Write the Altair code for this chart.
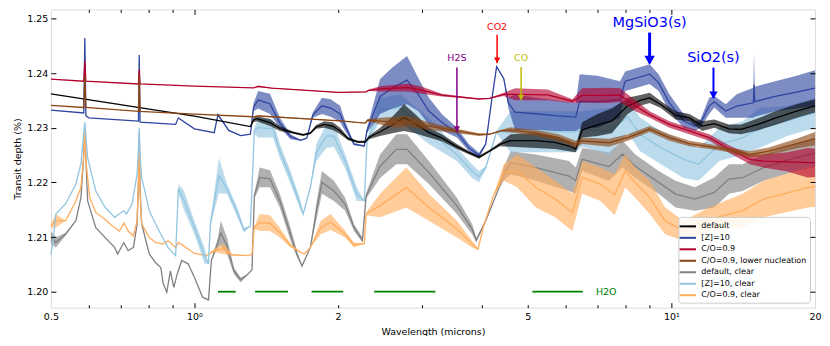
import altair as alt
import pandas as pd

# ---------------- data ----------------
SERIES = ["default", "[Z]=10", "C/O=0.9", "C/O=0.9, lower nucleation",
          "default, clear", "[Z]=10, clear", "C/O=0.9, clear"]
COLORS = ["#000000", "#2f45a0", "#b3002d", "#8b4513", "#808080", "#92c5e0", "#ffad5c"]

# (wavelength [micron], lower envelope, upper envelope) of transit depth [%]
default_pts = [
    (0.50, 1.2362, 1.2362), (1.00, 1.2321, 1.2321), (1.31, 1.2302, 1.2302),
    (1.33, 1.2310, 1.2318), (1.35, 1.2312, 1.2321), (1.44, 1.2303, 1.2316),
    (1.51, 1.2294, 1.2303), (1.61, 1.2289, 1.2293), (1.69, 1.2285, 1.2289),
    (1.75, 1.2288, 1.2292), (1.80, 1.2298, 1.2305), (1.87, 1.2300, 1.2312),
    (1.95, 1.2296, 1.2310), (2.02, 1.2288, 1.2300), (2.10, 1.2277, 1.2283),
    (2.20, 1.2272, 1.2276), (2.28, 1.2272, 1.2276), (2.32, 1.2279, 1.2285),
    (2.45, 1.2285, 1.2300), (2.60, 1.2290, 1.2320), (2.75, 1.2294, 1.2343),
    (2.90, 1.2290, 1.2325), (3.10, 1.2282, 1.2300), (3.30, 1.2275, 1.2288),
    (3.55, 1.2261, 1.2270), (3.75, 1.2252, 1.2258), (3.95, 1.2243, 1.2249),
    (4.15, 1.2255, 1.2259), (4.37, 1.2266, 1.2273), (4.60, 1.2265, 1.2288),
    (5.20, 1.2263, 1.2290), (5.70, 1.2261, 1.2285), (6.10, 1.2257, 1.2276),
    (6.30, 1.2255, 1.2267), (6.50, 1.2282, 1.2310), (7.00, 1.2285, 1.2325),
    (7.50, 1.2290, 1.2335), (8.10, 1.2325, 1.2355), (8.60, 1.2340, 1.2360),
    (9.00, 1.2345, 1.2364), (9.50, 1.2336, 1.2349), (10.2, 1.2315, 1.2330),
    (10.9, 1.2312, 1.2325), (11.6, 1.2294, 1.2312), (12.3, 1.2300, 1.2315),
    (13.2, 1.2290, 1.2306), (14.0, 1.2288, 1.2306), (15.3, 1.2296, 1.2318),
    (16.5, 1.2305, 1.2330), (18.3, 1.2318, 1.2343), (20.0, 1.2328, 1.2352),
]

z10_pts = [
    (0.500, 1.2332, 1.2332), (0.586, 1.2327, 1.2327), (0.589, 1.2464, 1.2464),
    (0.592, 1.2322, 1.2322), (0.600, 1.2318, 1.2318), (0.763, 1.2312, 1.2312),
    (0.766, 1.2433, 1.2433), (0.769, 1.2310, 1.2310), (0.913, 1.2306, 1.2306),
    (0.925, 1.2318, 1.2318), (1.00, 1.2298, 1.2298), (1.10, 1.2291, 1.2291),
    (1.12, 1.2322, 1.2326), (1.18, 1.2294, 1.2296), (1.25, 1.2285, 1.2286),
    (1.31, 1.2288, 1.2288), (1.33, 1.2330, 1.2345), (1.36, 1.2335, 1.2367),
    (1.44, 1.2325, 1.2362), (1.51, 1.2300, 1.2318), (1.59, 1.2279, 1.2288),
    (1.67, 1.2276, 1.2278), (1.72, 1.2280, 1.2282), (1.77, 1.2318, 1.2328),
    (1.85, 1.2325, 1.2355), (1.93, 1.2320, 1.2352), (2.02, 1.2310, 1.2340),
    (2.07, 1.2294, 1.2312), (2.16, 1.2268, 1.2272), (2.27, 1.2265, 1.2268),
    (2.30, 1.2290, 1.2300), (2.45, 1.2325, 1.2389), (2.60, 1.2335, 1.2410),
    (2.79, 1.2343, 1.2431), (2.95, 1.2330, 1.2390), (3.10, 1.2306, 1.2355),
    (3.30, 1.2295, 1.2325), (3.55, 1.2282, 1.2300), (3.76, 1.2257, 1.2270),
    (3.95, 1.2245, 1.2254), (4.08, 1.2268, 1.2272), (4.20, 1.2350, 1.2352),
    (4.30, 1.2410, 1.2413), (4.45, 1.2389, 1.2391), (4.55, 1.2336, 1.2355),
    (4.70, 1.2296, 1.2361), (5.20, 1.2296, 1.2355), (5.70, 1.2294, 1.2350),
    (6.30, 1.2294, 1.2345), (6.42, 1.2298, 1.2398), (7.00, 1.2300, 1.2395),
    (7.80, 1.2318, 1.2385), (8.00, 1.2367, 1.2403), (9.00, 1.2380, 1.2416),
    (9.40, 1.2367, 1.2398), (9.90, 1.2330, 1.2361), (10.6, 1.2300, 1.2325),
    (11.2, 1.2294, 1.2312), (11.5, 1.2300, 1.2315), (12.0, 1.2325, 1.2355),
    (12.3, 1.2337, 1.2358), (13.0, 1.2318, 1.2343), (13.7, 1.2318, 1.2361),
    (14.85, 1.2318, 1.2373), (14.9, 1.2320, 1.2437), (14.95, 1.2320, 1.2375),
    (16.5, 1.2330, 1.2385), (18.3, 1.2335, 1.2395), (20.0, 1.2340, 1.2405),
]

co_pts = [
    (0.500, 1.2389, 1.2389), (0.586, 1.2385, 1.2385), (0.589, 1.2422, 1.2422),
    (0.592, 1.2385, 1.2385), (0.763, 1.2380, 1.2380), (0.766, 1.2406, 1.2406),
    (0.769, 1.2380, 1.2380), (1.00, 1.2376, 1.2376), (1.33, 1.2373, 1.2373),
    (1.36, 1.2374, 1.2377), (1.45, 1.2372, 1.2373), (2.00, 1.2364, 1.2365),
    (2.29, 1.2365, 1.2366), (2.32, 1.2367, 1.2370), (2.45, 1.2366, 1.2376),
    (2.80, 1.2366, 1.2381), (3.00, 1.2362, 1.2375), (3.30, 1.2357, 1.2362),
    (3.95, 1.2352, 1.2353), (4.15, 1.2353, 1.2354), (4.45, 1.2358, 1.2364),
    (4.70, 1.2350, 1.2372), (5.50, 1.2350, 1.2370), (6.20, 1.2345, 1.2352),
    (6.50, 1.2346, 1.2372), (7.40, 1.2345, 1.2373), (7.80, 1.2347, 1.2372),
    (8.40, 1.2330, 1.2350), (9.00, 1.2318, 1.2330), (9.90, 1.2300, 1.2312),
    (10.9, 1.2288, 1.2300), (12.0, 1.2276, 1.2288), (13.2, 1.2254, 1.2268),
    (14.6, 1.2233, 1.2251), (15.6, 1.2227, 1.2251), (17.5, 1.2220, 1.2255),
    (19.3, 1.2209, 1.2263), (20.0, 1.2210, 1.2262),
]

lownuc_pts = [
    (0.500, 1.2341, 1.2341), (0.586, 1.2337, 1.2337), (0.589, 1.2395, 1.2395),
    (0.592, 1.2337, 1.2337), (0.763, 1.2330, 1.2330), (0.766, 1.2395, 1.2395),
    (0.769, 1.2330, 1.2330), (1.00, 1.2325, 1.2325), (1.33, 1.2320, 1.2320),
    (1.36, 1.2320, 1.2323), (2.02, 1.2312, 1.2313), (2.28, 1.2308, 1.2309),
    (2.31, 1.2312, 1.2316), (2.45, 1.2306, 1.2318), (2.65, 1.2300, 1.2320),
    (2.80, 1.2302, 1.2322), (3.10, 1.2296, 1.2310), (3.55, 1.2290, 1.2298),
    (3.95, 1.2285, 1.2290), (4.15, 1.2287, 1.2289), (4.40, 1.2293, 1.2296),
    (4.60, 1.2291, 1.2301), (5.20, 1.2285, 1.2296), (5.80, 1.2275, 1.2288),
    (6.30, 1.2264, 1.2276), (6.50, 1.2270, 1.2282), (7.40, 1.2265, 1.2280),
    (8.10, 1.2276, 1.2288), (9.00, 1.2292, 1.2303), (9.90, 1.2276, 1.2288),
    (10.9, 1.2266, 1.2276), (12.0, 1.2261, 1.2270), (13.2, 1.2255, 1.2264),
    (14.6, 1.2245, 1.2257), (16.0, 1.2250, 1.2264), (18.3, 1.2262, 1.2280),
    (20.0, 1.2268, 1.2292),
]

clear_pts = [
    (0.500, 1.2088, 1.2111), (0.512, 1.2081, 1.2099), (0.537, 1.2103, 1.2108),
    (0.564, 1.2130, 1.2130), (0.578, 1.2172, 1.2172), (0.586, 1.2250, 1.2250),
    (0.589, 1.2300, 1.2300), (0.592, 1.2245, 1.2245), (0.597, 1.2166, 1.2166),
    (0.621, 1.2117, 1.2117), (0.650, 1.2099, 1.2099), (0.680, 1.2081, 1.2081),
    (0.690, 1.2069, 1.2069), (0.711, 1.2090, 1.2090), (0.726, 1.2075, 1.2075),
    (0.745, 1.2081, 1.2081), (0.758, 1.2124, 1.2124), (0.763, 1.2200, 1.2200),
    (0.766, 1.2290, 1.2290), (0.769, 1.2190, 1.2190), (0.775, 1.2124, 1.2124),
    (0.804, 1.2069, 1.2069), (0.829, 1.2053, 1.2053), (0.850, 1.2044, 1.2044),
    (0.860, 1.2015, 1.2015), (0.875, 1.1999, 1.1999), (0.890, 1.2038, 1.2038),
    (0.905, 1.2008, 1.2008), (0.920, 1.2032, 1.2032), (0.940, 1.2057, 1.2057),
    (0.970, 1.2051, 1.2051), (1.000, 1.2026, 1.2026), (1.040, 1.1990, 1.1990),
    (1.070, 1.1985, 1.1985), (1.085, 1.2057, 1.2057), (1.120, 1.2081, 1.2099),
    (1.135, 1.2085, 1.2130), (1.170, 1.2069, 1.2099), (1.210, 1.2032, 1.2044),
    (1.250, 1.2017, 1.2026), (1.290, 1.2030, 1.2032), (1.320, 1.2040, 1.2040),
    (1.335, 1.2170, 1.2180), (1.370, 1.2191, 1.2227), (1.440, 1.2191, 1.2222),
    (1.510, 1.2154, 1.2179), (1.590, 1.2093, 1.2117), (1.640, 1.2063, 1.2075),
    (1.680, 1.2047, 1.2047), (1.750, 1.2081, 1.2081), (1.800, 1.2130, 1.2161),
    (1.850, 1.2179, 1.2221), (1.960, 1.2166, 1.2203), (2.070, 1.2148, 1.2172),
    (2.160, 1.2111, 1.2124), (2.250, 1.2090, 1.2099), (2.290, 1.2170, 1.2180),
    (2.450, 1.2208, 1.2251), (2.650, 1.2233, 1.2288), (2.790, 1.2233, 1.2288),
    (3.100, 1.2197, 1.2239), (3.550, 1.2142, 1.2172), (3.820, 1.2105, 1.2124),
    (3.900, 1.2090, 1.2099), (4.080, 1.2130, 1.2130), (4.300, 1.2179, 1.2179),
    (4.450, 1.2203, 1.2227), (4.600, 1.2215, 1.2257), (5.200, 1.2203, 1.2251),
    (6.100, 1.2184, 1.2239), (6.300, 1.2179, 1.2227), (6.500, 1.2221, 1.2263),
    (7.400, 1.2203, 1.2255), (7.900, 1.2227, 1.2276), (8.400, 1.2208, 1.2251),
    (9.400, 1.2179, 1.2221), (10.20, 1.2154, 1.2203), (11.20, 1.2148, 1.2191),
    (12.30, 1.2154, 1.2209), (13.20, 1.2179, 1.2233), (14.10, 1.2184, 1.2233),
    (15.60, 1.2203, 1.2251), (18.30, 1.2221, 1.2270), (20.00, 1.2227, 1.2280),
]

z10clear_pts = [
    (0.500, 1.2068, 1.2068), (0.505, 1.2090, 1.2090), (0.512, 1.2142, 1.2142),
    (0.537, 1.2161, 1.2161), (0.564, 1.2197, 1.2197), (0.578, 1.2234, 1.2234),
    (0.586, 1.2290, 1.2290), (0.589, 1.2310, 1.2310), (0.592, 1.2285, 1.2285),
    (0.597, 1.2245, 1.2245), (0.621, 1.2184, 1.2184), (0.650, 1.2154, 1.2154),
    (0.680, 1.2136, 1.2136), (0.711, 1.2148, 1.2148), (0.720, 1.2142, 1.2142),
    (0.740, 1.2161, 1.2161), (0.758, 1.2215, 1.2215), (0.763, 1.2260, 1.2260),
    (0.766, 1.2300, 1.2300), (0.769, 1.2250, 1.2250), (0.775, 1.2209, 1.2209),
    (0.804, 1.2148, 1.2148), (0.843, 1.2111, 1.2111), (0.880, 1.2081, 1.2081),
    (0.913, 1.2066, 1.2066), (0.925, 1.2180, 1.2197), (0.950, 1.2150, 1.2185),
    (1.000, 1.2105, 1.2129), (1.050, 1.2051, 1.2081), (1.070, 1.2051, 1.2051),
    (1.080, 1.2120, 1.2130), (1.125, 1.2180, 1.2245), (1.170, 1.2179, 1.2197),
    (1.230, 1.2136, 1.2154), (1.270, 1.2108, 1.2117), (1.310, 1.2120, 1.2120),
    (1.335, 1.2290, 1.2300), (1.360, 1.2282, 1.2318), (1.460, 1.2282, 1.2315),
    (1.510, 1.2245, 1.2270), (1.590, 1.2197, 1.2221), (1.670, 1.2148, 1.2166),
    (1.690, 1.2142, 1.2142), (1.750, 1.2191, 1.2191), (1.800, 1.2239, 1.2270),
    (1.890, 1.2263, 1.2306), (1.960, 1.2265, 1.2305), (2.070, 1.2226, 1.2251),
    (2.190, 1.2166, 1.2191), (2.270, 1.2166, 1.2166), (2.300, 1.2270, 1.2280),
    (2.450, 1.2312, 1.2355), (2.700, 1.2312, 1.2361), (3.100, 1.2270, 1.2318),
    (3.550, 1.2239, 1.2263), (3.820, 1.2208, 1.2233), (3.950, 1.2200, 1.2221),
    (4.080, 1.2224, 1.2230), (4.300, 1.2290, 1.2295), (4.600, 1.2255, 1.2330),
    (6.300, 1.2255, 1.2330), (6.500, 1.2265, 1.2330), (7.400, 1.2251, 1.2336),
    (8.100, 1.2290, 1.2349), (8.600, 1.2257, 1.2318), (9.500, 1.2233, 1.2294),
    (10.60, 1.2208, 1.2276), (11.40, 1.2203, 1.2263), (12.60, 1.2239, 1.2300),
    (14.10, 1.2251, 1.2312), (15.30, 1.2263, 1.2336), (17.50, 1.2285, 1.2340),
    (20.00, 1.2300, 1.2355),
]

coclear_pts = [
    (0.500, 1.2117, 1.2124), (0.512, 1.2117, 1.2142), (0.537, 1.2130, 1.2130),
    (0.564, 1.2166, 1.2166), (0.578, 1.2191, 1.2191), (0.586, 1.2250, 1.2250),
    (0.589, 1.2300, 1.2300), (0.592, 1.2240, 1.2240), (0.603, 1.2172, 1.2172),
    (0.621, 1.2145, 1.2145), (0.641, 1.2136, 1.2136), (0.673, 1.2120, 1.2120),
    (0.696, 1.2111, 1.2111), (0.711, 1.2126, 1.2126), (0.726, 1.2111, 1.2111),
    (0.745, 1.2102, 1.2102), (0.758, 1.2130, 1.2130), (0.763, 1.2200, 1.2200),
    (0.766, 1.2290, 1.2290), (0.769, 1.2180, 1.2180), (0.775, 1.2124, 1.2124),
    (0.804, 1.2099, 1.2099), (0.829, 1.2090, 1.2090), (0.857, 1.2087, 1.2087),
    (0.880, 1.2093, 1.2093), (0.913, 1.2081, 1.2081), (0.926, 1.2090, 1.2090),
    (0.970, 1.2078, 1.2078), (1.000, 1.2070, 1.2070), (1.060, 1.2066, 1.2066),
    (1.100, 1.2072, 1.2078), (1.150, 1.2069, 1.2088), (1.200, 1.2066, 1.2069),
    (1.300, 1.2066, 1.2066), (1.320, 1.2069, 1.2069), (1.335, 1.2115, 1.2120),
    (1.370, 1.2111, 1.2142), (1.440, 1.2111, 1.2140), (1.510, 1.2099, 1.2117),
    (1.590, 1.2081, 1.2088), (1.670, 1.2072, 1.2072), (1.700, 1.2069, 1.2069),
    (1.750, 1.2081, 1.2081), (1.840, 1.2105, 1.2130), (1.930, 1.2113, 1.2142),
    (2.070, 1.2099, 1.2111), (2.160, 1.2081, 1.2090), (2.270, 1.2088, 1.2088),
    (2.290, 1.2140, 1.2145), (2.450, 1.2136, 1.2179), (2.780, 1.2154, 1.2227),
    (3.100, 1.2130, 1.2179), (3.550, 1.2099, 1.2130), (3.820, 1.2081, 1.2093),
    (3.930, 1.2076, 1.2080), (4.030, 1.2117, 1.2117), (4.220, 1.2172, 1.2172),
    (4.450, 1.2203, 1.2233), (4.750, 1.2191, 1.2251), (5.200, 1.2154, 1.2227),
    (5.700, 1.2136, 1.2203), (6.200, 1.2111, 1.2179), (6.500, 1.2179, 1.2239),
    (7.100, 1.2166, 1.2227), (7.600, 1.2140, 1.2215), (8.000, 1.2191, 1.2251),
    (8.400, 1.2172, 1.2227), (9.000, 1.2142, 1.2203), (9.700, 1.2105, 1.2154),
    (10.60, 1.2093, 1.2130), (12.00, 1.2111, 1.2154), (14.10, 1.2118, 1.2179),
    (15.60, 1.2136, 1.2203), (19.30, 1.2154, 1.2227), (20.00, 1.2155, 1.2230),
]

# H2O bands
h2o_start = [1.12, 1.34, 1.76, 2.38, 5.11]
h2o_end = [1.22, 1.57, 2.05, 3.20, 6.52]
h2o_level = 1.2000
h2o_label_x = 7.3

# annotations
ann_label = ["H2S", "CO2", "CO", "MgSiO3(s)", "SiO2(s)"]
ann_x = [3.55, 4.31, 4.84, 9.0, 12.25]
ann_text_y = [1.2427, 1.2484, 1.2427, 1.2491, 1.2427]
ann_from = [1.2410, 1.2470, 1.2411, 1.2474, 1.2410]
ann_to = [1.2292, 1.2418, 1.2350, 1.2418, 1.2354]
ann_color = ["#800080", "#ff0000", "#bfbf00", "#0000ff", "#0000ff"]
ann_font = [9.5, 9.5, 9.5, 14.5, 14.5]
ann_width = [1.5, 1.5, 1.5, 3.0, 2.0]
ann_head = [40, 40, 40, 110, 70]

# axes
x_label_vals = [0.5, 1, 2, 5, 10, 20]
x_major = [1, 10]
x_minor = [0.6, 0.7, 0.8, 0.9, 2, 3, 4, 5, 6, 7, 8, 9]
y_ticks = [1.20, 1.21, 1.22, 1.23, 1.24, 1.25]

W, H = 766, 299
FONT = "DejaVu Sans"

xscale = alt.Scale(type="log", domain=[0.5, 20], nice=False)
yscale = alt.Scale(domain=[1.19708, 1.25164], nice=False, zero=False)
cscale = alt.Scale(domain=SERIES, range=COLORS)

legend = alt.Legend(
    title=None, orient="bottom-right", offset=5, symbolType="M-1.5,0H1.5",
    symbolStrokeWidth=2, symbolSize=120, symbolOpacity=1, labelFontSize=8,
    labelFont=FONT, labelColor="black", labelOffset=7, padding=3, rowPadding=0.5,
    labelLimit=250, fillColor="rgba(255,255,255,0.85)", strokeColor="#cccccc",
    cornerRadius=3,
)

series_data = {
    "default": default_pts,
    "[Z]=10": z10_pts,
    "C/O=0.9": co_pts,
    "C/O=0.9, lower nucleation": lownuc_pts,
    "default, clear": clear_pts,
    "[Z]=10, clear": z10clear_pts,
    "C/O=0.9, clear": coclear_pts,
}
draw_order = ["default, clear", "C/O=0.9, clear", "[Z]=10, clear", "[Z]=10",
              "default", "C/O=0.9", "C/O=0.9, lower nucleation"]

layers = []

# ---- axis-only invisible layers (labels + inward ticks on all four sides) ----
anchor = pd.DataFrame({"w": [1.0], "v": [1.22]})
common_tick = dict(labels=False, domain=False, grid=False, title=None,
                   tickColor="black", tickWidth=1, zindex=1, minExtent=0)

ax_specs = [
    (alt.Axis(orient="bottom", values=x_label_vals, ticks=False, tickSize=0,
              domain=False, grid=False, labelFlush=False, labelOverlap=False,
              labelExpr="datum.value == 1 ? '10\u2070' : (datum.value == 10 ? '10\u00b9' : format(datum.value, '~g'))",
              labelFont=FONT, labelFontSize=9.5, labelColor="black", labelPadding=4,
              title="Wavelength (microns)", titleFont=FONT, titleFontSize=9.5,
              titleFontWeight="normal", titleColor="black", titlePadding=5),
     alt.Axis(orient="left", values=y_ticks, format=".2f", ticks=False, tickSize=0,
              domain=False, grid=False, labelFont=FONT, labelFontSize=9.5,
              labelColor="black", labelPadding=3, title="Transit depth (%)",
              titleFont=FONT, titleFontSize=9.5, titleFontWeight="normal",
              titleColor="black", titlePadding=4)),
    (alt.Axis(orient="top", offset=-H, values=x_major, tickSize=5, **common_tick),
     alt.Axis(orient="right", offset=-W, values=y_ticks, tickSize=5, **common_tick)),
    (alt.Axis(orient="top", offset=-H, values=x_minor, tickSize=3, **common_tick),
     alt.Axis(orient="left", offset=-W, values=y_ticks, tickSize=5, **common_tick)),
    (alt.Axis(orient="bottom", offset=-H, values=x_major, tickSize=5, **common_tick), None),
    (alt.Axis(orient="bottom", offset=-H, values=x_minor, tickSize=3, **common_tick), None),
]
for xa, ya in ax_specs:
    enc_y = alt.Y("v:Q", scale=yscale, axis=ya) if ya is not None else alt.Y("v:Q", scale=yscale, axis=None)
    layers.append(
        alt.Chart(anchor).mark_point(opacity=0).encode(
            x=alt.X("w:Q", scale=xscale, axis=xa), y=enc_y)
    )

# ---- spectra: noise envelope (area) + central trace (line) ----
for name in draw_order:
    pts = series_data[name]
    col = COLORS[SERIES.index(name)]
    df = pd.DataFrame(pts, columns=["w", "lo", "hi"])
    df["mid"] = (df["lo"] + df["hi"]) / 2
    df["series"] = name
    area = alt.Chart(df).mark_area(opacity=0.62, orient="vertical", color=col).encode(
        x=alt.X("w:Q", scale=xscale, axis=None),
        y=alt.Y("lo:Q", scale=yscale, axis=None),
        y2="hi:Q",
    )
    line = alt.Chart(df).mark_line(strokeWidth=1.3).encode(
        x=alt.X("w:Q", scale=xscale, axis=None),
        y=alt.Y("mid:Q", scale=yscale, axis=None),
        color=alt.Color("series:N", scale=cscale, legend=legend),
    )
    layers += [area, line]

# ---- H2O bands ----
h2o_df = pd.DataFrame({"s": h2o_start, "e": h2o_end, "y": [h2o_level] * len(h2o_start)})
layers.append(
    alt.Chart(h2o_df).mark_rule(color="#008000", strokeWidth=1.8).encode(
        x=alt.X("s:Q", scale=xscale, axis=None), x2="e:Q",
        y=alt.Y("y:Q", scale=yscale, axis=None))
)
layers.append(
    alt.Chart(pd.DataFrame({"x": [h2o_label_x], "y": [h2o_level], "t": ["H2O"]}))
    .mark_text(color="#008000", font=FONT, fontSize=9.5, baseline="middle", align="center")
    .encode(x=alt.X("x:Q", scale=xscale, axis=None), y=alt.Y("y:Q", scale=yscale, axis=None), text="t:N")
)

# ---- molecule / condensate annotations (one small layer group each) ----
for i in range(len(ann_label)):
    one = pd.DataFrame({"label": [ann_label[i]], "x": [ann_x[i]], "ty": [ann_text_y[i]],
                        "y0": [ann_from[i]], "y1": [ann_to[i]]})
    base = alt.Chart(one)
    layers.append(
        base.mark_rule(color=ann_color[i], strokeWidth=ann_width[i]).encode(
            x=alt.X("x:Q", scale=xscale, axis=None),
            y=alt.Y("y0:Q", scale=yscale, axis=None), y2="y1:Q")
    )
    layers.append(
        base.mark_point(shape="triangle-down", filled=True, opacity=1, yOffset=-3,
                        color=ann_color[i], size=ann_head[i]).encode(
            x=alt.X("x:Q", scale=xscale, axis=None),
            y=alt.Y("y1:Q", scale=yscale, axis=None))
    )
    layers.append(
        base.mark_text(font=FONT, baseline="middle", align="center",
                       color=ann_color[i], fontSize=ann_font[i]).encode(
            x=alt.X("x:Q", scale=xscale, axis=None),
            y=alt.Y("ty:Q", scale=yscale, axis=None),
            text="label:N")
    )

chart = (
    alt.layer(*layers)
    .resolve_axis(x="independent", y="independent")
    .properties(width=W, height=H, padding={"left": 4, "top": 0, "right": 0, "bottom": 0},
                background="white")
    .configure_view(stroke="#000000", strokeWidth=1)
    .configure(font=FONT)
)

chart.save("out.html", embed_options={"renderer": "svg", "actions": False})
